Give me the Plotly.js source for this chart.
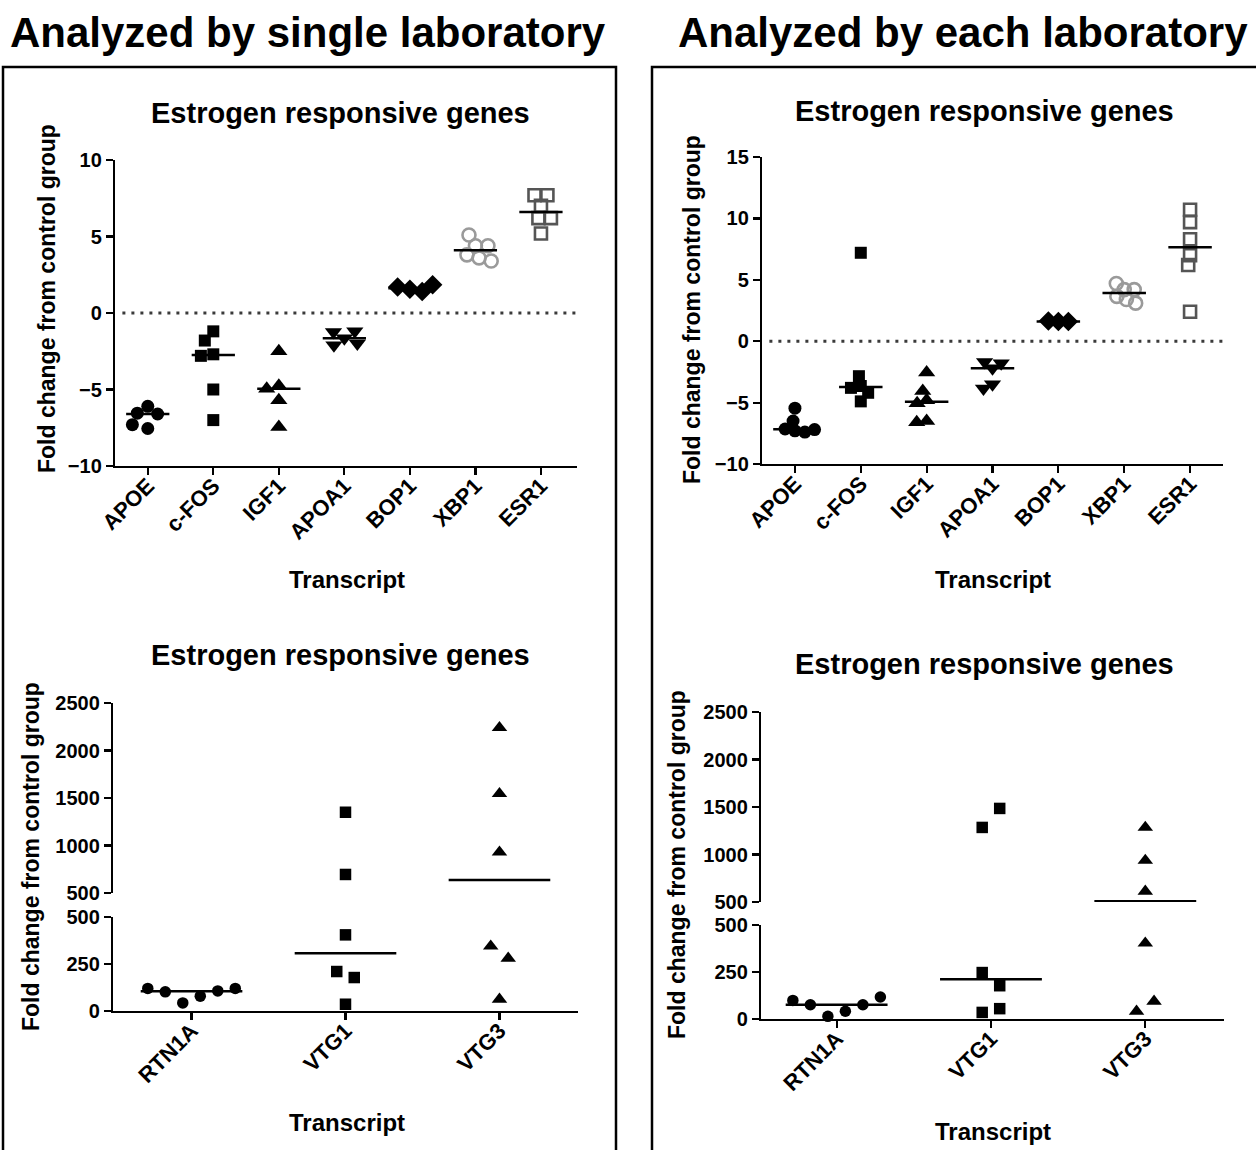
<!DOCTYPE html>
<html><head><meta charset="utf-8">
<script src="https://cdn.plot.ly/plotly-3.0.1.min.js"></script>
<style>html,body{margin:0;padding:0;background:#fff}</style>
</head><body>
<div id="chart" style="width:1256px;height:1150px"></div>
<script>
// ---------------- DATA ----------------
const topGenes = ['APOE', 'c-FOS', 'IGF1', 'APOA1', 'BOP1', 'XBP1', 'ESR1'];
const bottomGenes = ['RTN1A', 'VTG1', 'VTG3'];

// Analyzed by single laboratory – fold change
const singleAPOE  = [-6.1, -6.55, -6.6, -7.55, -7.3];
const singleCFOS  = [-1.2, -1.8, -2.7, -2.8, -5.0, -7.0];
const singleIGF1  = [-2.5, -4.75, -4.95, -5.7, -7.45];
const singleAPOA1 = [-1.65, -1.25, -1.2, -2.0, -2.1];
const singleBOP1  = [1.55, 1.7, 1.4, 1.85];
const singleXBP1  = [4.4, 5.1, 4.4, 3.8, 3.6, 3.4];
const singleESR1  = [7.0, 7.7, 7.7, 6.2, 6.2, 5.2];
const singleRTN1A = [79, 43, 107, 102, 120, 120];
const singleVTG1  = [1350, 695, 405, 178, 210, 36];
const singleVTG3  = [2240, 1545, 930, 280, 345, 62];

// Analyzed by each laboratory – fold change
const eachAPOE  = [-7.3, -5.45, -7.15, -6.5, -7.4, -7.2];
const eachCFOS  = [7.2, -3.65, -2.85, -3.8, -4.2, -4.9];
const eachIGF1  = [-4.8, -2.55, -4.05, -5.05, -6.5, -6.6];
const eachAPOA1 = [-2.2, -1.7, -1.8, -3.5, -3.85];
const eachBOP1  = [1.6, 1.65, 1.6];
const eachXBP1  = [4.2, 4.7, 4.2, 3.65, 3.4, 3.1];
const eachESR1  = [10.7, 9.7, 8.3, 7.0, 6.2, 2.4];
const eachRTN1A = [41, 14, 76, 76, 117, 99];
const eachVTG1  = [1485, 1285, 177, 247, 55, 35];
const eachVTG3  = [1285, 937, 612, 403, 94, 41];

const mainTitles = ['Analyzed by single laboratory', 'Analyzed by each laboratory'];
const panelTitle = 'Estrogen responsive genes';
const yTitle = 'Fold change from control group';
const xTitle = 'Transcript';

// ---------------- STYLE ----------------
const W = 1256, H = 1150;
const FONT = 'Arial, "Liberation Sans", sans-serif';
const fx = v => v / W;
const fy = v => 1 - v / H;

const topStyles = [
  {symbol: 'circle', color: '#000', ds: 0},
  {symbol: 'square', color: '#000', ds: -1},
  {symbol: 'triangle-up', color: '#000', ds: 2},
  {symbol: 'triangle-down', color: '#000', ds: 2},
  {symbol: 'diamond', color: '#000', ds: 2},
  {symbol: 'circle-open', color: '#9a9a9a', ds: 0},
  {symbol: 'square-open', color: '#555', ds: -1}
];
const bottomStyles = [
  {symbol: 'circle', color: '#000', ds: 0},
  {symbol: 'square', color: '#000', ds: 0},
  {symbol: 'triangle-up', color: '#000', ds: 2}
];

function median(a) {
  const s = a.slice().sort((p, q) => p - q);
  const n = s.length;
  return n % 2 ? s[(n - 1) / 2] : (s[n / 2 - 1] + s[n / 2]) / 2;
}

// beeswarm-style horizontal spreading (pixel space)
function swarm(vals, ypx, opt) {
  const pts = [];
  vals.forEach(v => {
    const y = ypx(v);
    if (opt.mode === 'grid') {
      const order = [0];
      for (let i = 1; i < 20; i++) order.push(-i, i);
      let slot = 0;
      for (const s of order) {
        if (!pts.some(p => p.s === s && Math.abs(p.y - y) < opt.D)) { slot = s; break; }
      }
      pts.push({y: y, s: slot, x: slot * opt.slot});
    } else {
      const ints = pts.filter(p => Math.abs(p.y - y) < opt.D).map(p => {
        const h = Math.sqrt(opt.D * opt.D - (p.y - y) * (p.y - y));
        return [p.x - h, p.x + h];
      });
      const cands = [0];
      ints.forEach(iv => cands.push(iv[0], iv[1]));
      const ok = cands.filter(c => !ints.some(iv => c > iv[0] + 1e-6 && c < iv[1] - 1e-6));
      ok.sort((a, b) => Math.abs(a) - Math.abs(b) || a - b);
      pts.push({y: y, x: ok[0]});
    }
  });
  if (opt.recenter) {
    const par = pts.map((_, i) => i);
    const find = i => par[i] === i ? i : (par[i] = find(par[i]));
    for (let i = 0; i < pts.length; i++)
      for (let j = i + 1; j < pts.length; j++)
        if (Math.abs(pts[i].y - pts[j].y) < opt.D) par[find(i)] = find(j);
    const groups = {};
    pts.forEach((p, i) => { const r = find(i); (groups[r] = groups[r] || []).push(p); });
    Object.values(groups).forEach(g => {
      const xs = g.map(p => p.x);
      const sh = -(Math.min(...xs) + Math.max(...xs)) / 2;
      g.forEach(p => { p.x += sh; });
    });
  }
  return pts.map(p => p.x);
}

const panels = [
  {xa: 'x', ya: 'y', xdom: [115, 577], ydom: [160, 466], xr: [-0.5, 6.55], yr: [-10, 10], dtick: 5,
   genes: topGenes, styles: topStyles, size: 13, D: 12.5,
   data: [singleAPOE, singleCFOS, singleIGF1, singleAPOA1, singleBOP1, singleXBP1, singleESR1]},
  {xa: 'x2', ya: 'y2', xdom: [762, 1223], ydom: [157, 464], xr: [-0.5, 6.5], yr: [-10, 15], dtick: 5,
   genes: topGenes, styles: topStyles, size: 13, D: 10,
   data: [eachAPOE, eachCFOS, eachIGF1, eachAPOA1, eachBOP1, eachXBP1, eachESR1]},
  {xa: 'x3', ya: 'y3', yaU: 'y4', xdom: [113, 578], ydomL: [917, 1011], ydomU: [703, 893], xr: [-0.51, 2.51],
   genes: bottomGenes, styles: bottomStyles, size: 11.5,
   data: [singleRTN1A, singleVTG1, singleVTG3]},
  {xa: 'x4', ya: 'y5', yaU: 'y6', xdom: [761, 1224], ydomL: [925, 1019], ydomU: [712, 902], xr: [-0.49, 2.51],
   genes: bottomGenes, styles: bottomStyles, size: 11.5,
   data: [eachRTN1A, eachVTG1, eachVTG3]}
];

const BREAK = 500, TOPV = 2500;
const traces = [];
const layout = {
  width: W, height: H, margin: {l: 0, r: 0, t: 0, b: 0},
  paper_bgcolor: '#fff', plot_bgcolor: 'rgba(0,0,0,0)', showlegend: false,
  font: {family: FONT, color: '#000'},
  shapes: [], annotations: []
};

function axisName(id) { return id.replace(/^x/, 'xaxis').replace(/^y/, 'yaxis'); }
const baseY = {
  showline: true, linewidth: 2.2, linecolor: '#000', ticks: 'outside', ticklen: 7, tickwidth: 2.2,
  tickcolor: '#000', showgrid: false, zeroline: false, fixedrange: true,
  tickfont: {family: FONT, size: 20, weight: 700, color: '#000'}
};

panels.forEach(P => {
  const spacing = (P.xdom[1] - P.xdom[0]) / (P.xr[1] - P.xr[0]);
  const isBottom = !!P.yaU;
  const xAxis = {
    domain: [fx(P.xdom[0]), fx(P.xdom[1])], range: P.xr, anchor: P.ya,
    showline: true, linewidth: 2.2, linecolor: '#000', ticks: 'outside', ticklen: 7, tickwidth: 2.2,
    tickcolor: '#000', showgrid: false, zeroline: false, fixedrange: true,
    tickvals: P.genes.map((g, i) => i), ticktext: P.genes, tickangle: -45,
    ticklabelstandoff: -11,
    tickfont: {family: FONT, size: 22, weight: 700, color: '#000'}
  };
  layout[axisName(P.xa)] = xAxis;

  let ypx, swarmOpt;
  if (!isBottom) {
    const ppu = (P.ydom[1] - P.ydom[0]) / (P.yr[1] - P.yr[0]);
    ypx = v => v * ppu;
    swarmOpt = {mode: 'compact', D: P.D};
    layout[axisName(P.ya)] = Object.assign({}, baseY, {
      domain: [fy(P.ydom[1]), fy(P.ydom[0])], range: P.yr, dtick: P.dtick, anchor: P.xa
    });
    layout.shapes.push({
      type: 'line', xref: P.xa + ' domain', yref: P.ya, x0: 0.016, x1: 1, y0: 0, y1: 0,
      line: {color: '#3a3a3a', width: 3, dash: '3px,6px'}, layer: 'below'
    });
  } else {
    const L = P.ydomL[1] - P.ydomL[0], U = P.ydomU[1] - P.ydomU[0], G = P.ydomL[0] - P.ydomU[1];
    ypx = v => v <= BREAK ? v * L / BREAK : L + G + (v - BREAK) * U / (TOPV - BREAK);
    swarmOpt = {mode: 'grid', D: 20, slot: 17.5, recenter: true};
    layout[axisName(P.ya)] = Object.assign({}, baseY, {
      domain: [fy(P.ydomL[1]), fy(P.ydomL[0])], range: [0, BREAK], tickvals: [0, 250, 500], anchor: P.xa
    });
    layout[axisName(P.yaU)] = Object.assign({}, baseY, {
      domain: [fy(P.ydomU[1]), fy(P.ydomU[0])], range: [BREAK, TOPV], dtick: 500, tick0: 500, anchor: P.xa
    });
  }

  // markers
  P.data.forEach((vals, i) => {
    const st = P.styles[i];
    const offs = swarm(vals, ypx, swarmOpt).map(o => o / spacing);
    const open = st.symbol.indexOf('open') >= 0;
    const mk = {symbol: st.symbol, size: P.size + st.ds, color: st.color,
                line: {width: open ? 2.6 : 0, color: st.color}};
    const groups = isBottom
      ? [{ya: P.ya, test: v => v <= BREAK}, {ya: P.yaU, test: v => v > BREAK}]
      : [{ya: P.ya, test: () => true}];
    groups.forEach(gp => {
      const xs = [], ys = [];
      vals.forEach((v, k) => { if (gp.test(v)) { xs.push(i + offs[k]); ys.push(v); } });
      if (xs.length) traces.push({type: 'scatter', mode: 'markers', x: xs, y: ys,
        xaxis: P.xa, yaxis: gp.ya, marker: mk, cliponaxis: false, hoverinfo: 'skip'});
    });
  });
  // median lines
  P.data.forEach((vals, i) => {
    const m = median(vals);
    const ya = isBottom ? (m <= BREAK ? P.ya : P.yaU) : P.ya;
    traces.push({type: 'scatter', mode: 'lines', x: [i - 0.33, i + 0.33], y: [m, m],
      xaxis: P.xa, yaxis: ya, line: {color: '#000', width: 2.5}, cliponaxis: false, hoverinfo: 'skip'});
  });
});

// frames around each half
[[3, 616], [652, 1262]].forEach(b => {
  layout.shapes.push({type: 'rect', xref: 'paper', yref: 'paper',
    x0: fx(b[0]), x1: fx(b[1]), y0: -0.05, y1: fy(67), line: {color: '#000', width: 2.5}});
});

function ann(text, x, y, size, angle) {
  layout.annotations.push({text: text, xref: 'paper', yref: 'paper', x: fx(x), y: fy(y),
    xanchor: 'center', yanchor: 'middle', showarrow: false, textangle: angle || 0,
    font: {family: FONT, size: size, weight: 700, color: '#000'}});
}
ann(mainTitles[0], 308, 32, 42);
ann(mainTitles[1], 963, 32, 42);
ann(panelTitle, 340, 113, 29);
ann(panelTitle, 984, 111, 29);
ann(panelTitle, 340, 655, 29);
ann(panelTitle, 984, 664, 29);
ann(yTitle, 47, 299, 23, -90);
ann(yTitle, 692, 310, 23, -90);
ann(yTitle, 31, 857, 23, -90);
ann(yTitle, 677, 865, 23, -90);
ann(xTitle, 347, 579, 24);
ann(xTitle, 993, 579, 24);
ann(xTitle, 347, 1122, 24);
ann(xTitle, 993, 1131, 24);

Plotly.newPlot('chart', traces, layout, {staticPlot: true, displayModeBar: false});
</script>
</body></html>
